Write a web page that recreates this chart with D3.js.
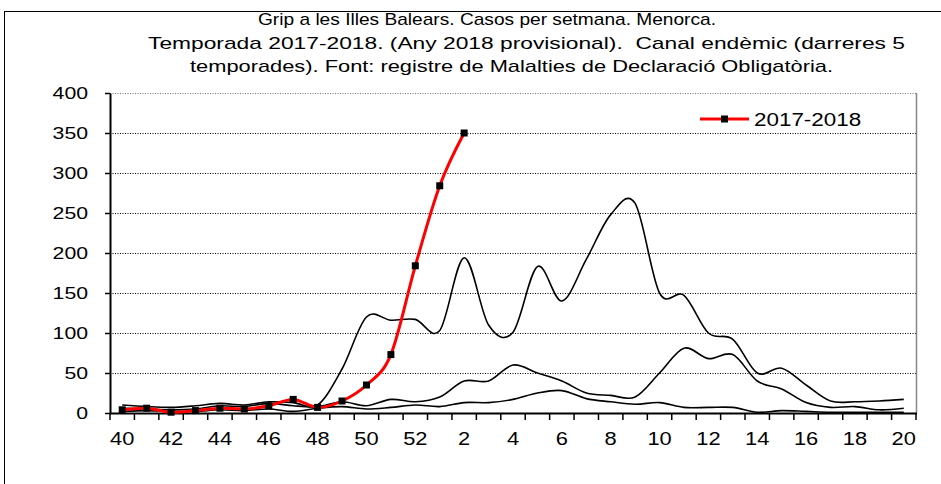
<!DOCTYPE html>
<html>
<head>
<meta charset="utf-8">
<script src="https://cdn.jsdelivr.net/npm/d3@7"></script>
<style>
  body { margin: 0; background: #fff; }
  text { font-family: "Liberation Sans", Arial, sans-serif; fill: #000; }
</style>
</head>
<body>
<svg id="chart" width="941" height="484"></svg>
<script>
// weeks of the flu season (week 40 to week 20)
var weeks = ['40','41','42','43','44','45','46','47','48','49','50','51','52',
  '1','2','3','4','5','6','7','8','9','10','11','12','13','14','15','16','17','18','19','20'];

// 2017-2018 season, weekly cases (up to week 2)
var season = [4, 6, 1, 3, 6, 5, 9, 17, 7, 15, 35, 73, 184, 284, 350];

// endemic channel, last 5 seasons
var chMax = [10, 8, 7, 9, 12, 10, 14, 13, 10, 55, 120, 116, 117, 103, 194, 110, 101, 183, 140, 192,
  248, 262, 150, 147, 100, 92, 50, 56, 35, 15, 14, 15, 17];
var chMid = [6, 5, 4, 5, 9, 8, 12, 9, 8, 14, 9, 17, 14, 20, 40, 40, 60, 50, 40, 25,
  22, 20, 50, 81, 68, 73, 40, 30, 13, 7, 8, 4, 6];
var chMin = [2, 3, 2, 2, 4, 3, 5, 2, 6, 8, 5, 7, 10, 8, 13, 13, 17, 25, 28, 18,
  14, 11, 13, 7, 7, 7, 1, 3, 2, 1, 1, 1, 1];

var yTicks = [0, 50, 100, 150, 200, 250, 300, 350, 400];
var xLabels = weeks.filter(function(d, i) { return i % 2 == 0; });

var titleLines = [
  'Grip a les Illes Balears. Casos per setmana. Menorca.',
  'Temporada 2017-2018. (Any 2018 provisional).  Canal endèmic (darreres 5',
  'temporades). Font: registre de Malalties de Declaració Obligatòria.'
];
var legendLabel = '2017-2018';

var svg = d3.select('#chart');
var plot = {l: 110, r: 916, t: 93, b: 413};
var stretch = 1.25;

// outer frame
svg.append('rect')
  .attr('x', 4.5).attr('y', 11.5)
  .attr('width', 1000).attr('height', 1000)
  .attr('fill', 'none').attr('stroke', '#000').attr('stroke-width', 1);

// title - lines are squeezed/stretched like in the original picture
var titleBox = [[258, 458], [148, 757], [190, 643]];
svg.append('g').selectAll('text')
  .data(titleLines)
  .enter().append('text')
  .attr('x', function(d, i) { return titleBox[i][0]; })
  .attr('y', function(d, i) { return 25 + i * 23.5; })
  .attr('textLength', function(d, i) { return titleBox[i][1]; })
  .attr('lengthAdjust', 'spacingAndGlyphs')
  .style('white-space', 'pre')
  .style('font-size', '17px')
  .text(function(d) { return d; });

var x = d3.scaleBand().domain(weeks).range([plot.l, plot.r]);
var y = d3.scaleLinear().domain([0, 400]).range([plot.b, plot.t]);
var cx = function(w) { return x(w) + x.bandwidth() / 2; };

// gridlines
svg.append('g').selectAll('line')
  .data(yTicks.filter(function(d) { return d > 0; }))
  .enter().append('line')
  .attr('x1', plot.l).attr('x2', plot.r)
  .attr('y1', function(d) { return y(d) + 0.5; })
  .attr('y2', function(d) { return y(d) + 0.5; })
  .attr('stroke', function(d) { return d == 400 ? '#777' : '#000'; })
  .attr('stroke-width', 1)
  .attr('stroke-dasharray', '1,1.5');

// right border of the plot
svg.append('line')
  .attr('x1', plot.r + 0.5).attr('x2', plot.r + 0.5)
  .attr('y1', plot.t).attr('y2', plot.b)
  .attr('stroke', '#888').attr('stroke-width', 1.5);

// y axis
var yAxis = svg.append('g')
  .attr('transform', 'translate(' + plot.l + ',0)')
  .call(d3.axisLeft(y).tickValues(yTicks).tickSize(5).tickSizeOuter(0));
yAxis.select('.domain').attr('stroke', '#000').attr('stroke-width', 2);
yAxis.selectAll('.tick line').attr('stroke', '#000').attr('stroke-width', 1.5);
yAxis.selectAll('.tick text')
  .attr('x', -22 / stretch)
  .attr('transform', 'scale(' + stretch + ',1)')
  .style('font-family', '"Liberation Sans", Arial, sans-serif')
  .style('font-size', '17px');

// x axis
var xAxis = svg.append('g')
  .attr('transform', 'translate(0,' + plot.b + ')')
  .call(d3.axisBottom(x).tickValues(xLabels).tickSize(0).tickPadding(20));
xAxis.select('.domain').remove();
xAxis.selectAll('.tick text')
  .attr('transform', 'scale(' + stretch + ',1)')
  .attr('dy', '0.71em')
  .style('font-family', '"Liberation Sans", Arial, sans-serif')
  .style('font-size', '17.5px');

svg.append('line')
  .attr('x1', plot.l).attr('x2', plot.r + 1)
  .attr('y1', plot.b + 0.5).attr('y2', plot.b + 0.5)
  .attr('stroke', '#000').attr('stroke-width', 2);

svg.append('g').selectAll('line')
  .data(d3.range(weeks.length + 1))
  .enter().append('line')
  .attr('x1', function(i) { return plot.l + i * x.bandwidth(); })
  .attr('x2', function(i) { return plot.l + i * x.bandwidth(); })
  .attr('y1', plot.b).attr('y2', plot.b + 7)
  .attr('stroke', '#000').attr('stroke-width', 1.5);

// endemic channel curves
var line = d3.line()
  .x(function(d, i) { return cx(weeks[i]); })
  .y(function(d) { return y(d); })
  .curve(d3.curveCardinal.tension(0));

svg.append('g').selectAll('path')
  .data([chMin, chMid, chMax])
  .enter().append('path')
  .attr('d', line)
  .attr('fill', 'none')
  .attr('stroke', '#000')
  .attr('stroke-width', 1.6);

// current season
svg.append('path')
  .datum(season)
  .attr('d', line)
  .attr('fill', 'none')
  .attr('stroke', '#ff0000')
  .attr('stroke-width', 3);

svg.append('g').selectAll('rect')
  .data(season)
  .enter().append('rect')
  .attr('x', function(d, i) { return cx(weeks[i]) - 3.5; })
  .attr('y', function(d) { return y(d) - 3.5; })
  .attr('width', 7).attr('height', 7)
  .attr('fill', '#000');

// legend
var legend = svg.append('g').attr('transform', 'translate(700,119)');
legend.append('line')
  .attr('x1', 0).attr('x2', 49)
  .attr('stroke', '#ff0000').attr('stroke-width', 3);
legend.append('rect')
  .attr('x', 21).attr('y', -3.5).attr('width', 7).attr('height', 7)
  .attr('fill', '#000');
legend.append('text')
  .attr('x', 54 / 1.18).attr('y', 7)
  .attr('transform', 'scale(1.18,1)')
  .style('font-size', '19px')
  .text(legendLabel);
</script>
</body>
</html>
